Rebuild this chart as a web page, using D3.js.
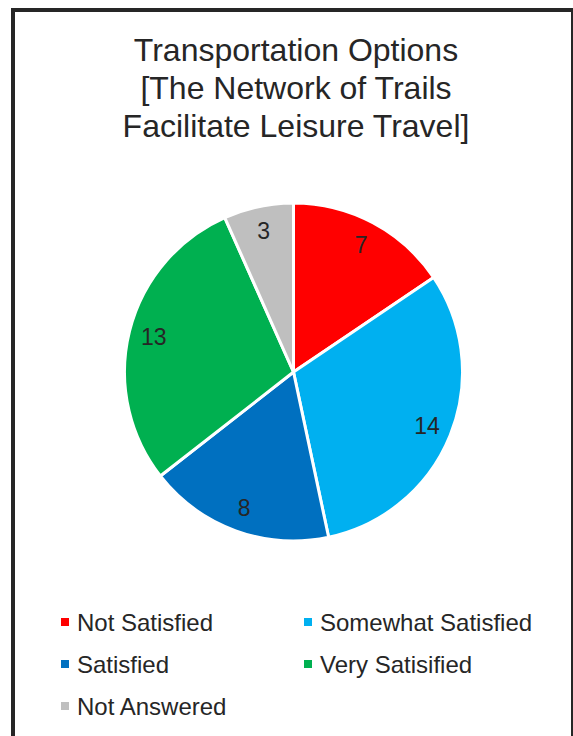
<!DOCTYPE html>
<html><head><meta charset="utf-8">
<script src="https://cdn.jsdelivr.net/npm/d3@7"></script>
<style>body{margin:0;background:#fff}svg{display:block}text{font-family:"Liberation Sans",Arial,sans-serif}</style>
</head><body>
<svg id="c" width="573" height="736"></svg>
<script>
const titleLines = ["Transportation Options", "[The Network of Trails", "Facilitate Leisure Travel]"];
const categories = ["Not Satisfied", "Somewhat Satisfied", "Satisfied", "Very Satisifed", "Not Answered"];
const legendLabels = ["Not Satisfied", "Somewhat Satisfied", "Satisfied", "Very Satisified", "Not Answered"];
const values = [7, 14, 8, 13, 3];
const colors = ["#FF0000", "#00B0F0", "#0070C0", "#00B050", "#BFBFBF"];

const svg = d3.select("#c");
const W = 573, H = 736;
svg.append("rect").attr("width", W).attr("height", H).attr("fill", "#fff");
svg.append("rect").attr("x", 13).attr("y", 10).attr("width", 560).attr("height", 740)
  .attr("fill", "none").attr("stroke", "#262626").attr("stroke-width", 4);

const tc = "#262626";
svg.selectAll("text.title").data(titleLines).join("text").attr("class","title")
  .attr("x", 296).attr("y", (d,i) => 61 + i*38).attr("text-anchor","middle")
  .attr("font-size", 32).attr("fill", tc).text(d => d);

const cx = 293.5, cy = 372, R = 169;
const pie = d3.pie().sort(null).value(d => d.v);
const data = pie(values.map((v,i) => ({v, c: colors[i], name: categories[i]})));
const arc = d3.arc().innerRadius(0).outerRadius(R);
const labelArc = d3.arc().innerRadius(144).outerRadius(144);
const g = svg.append("g").attr("transform", `translate(${cx},${cy})`);
g.selectAll("path").data(data).join("path").attr("d", arc)
  .attr("fill", d => d.data.c).attr("stroke", "#fff").attr("stroke-width", 3).attr("stroke-linejoin","round");
g.selectAll("text").data(data).join("text")
  .attr("transform", d => `translate(${labelArc.centroid(d)})`)
  .attr("text-anchor","middle").attr("dy","0.36em").attr("font-size", 23).attr("fill", tc)
  .text(d => d.data.v);

const lg = svg.append("g");
const items = legendLabels.map((l,i) => ({l, c: colors[i], col: i%2, row: Math.floor(i/2)}));
const leg = lg.selectAll("g").data(items).join("g")
  .attr("transform", d => `translate(${d.col ? 304 : 61},${622 + d.row*42})`);
leg.append("rect").attr("x", 0).attr("y", -4).attr("width", 8).attr("height", 8).attr("fill", d => d.c);
leg.append("text").attr("x", 16).attr("dy", "0.36em").attr("font-size", 24).attr("fill", tc).text(d => d.l);
</script>
</body></html>
